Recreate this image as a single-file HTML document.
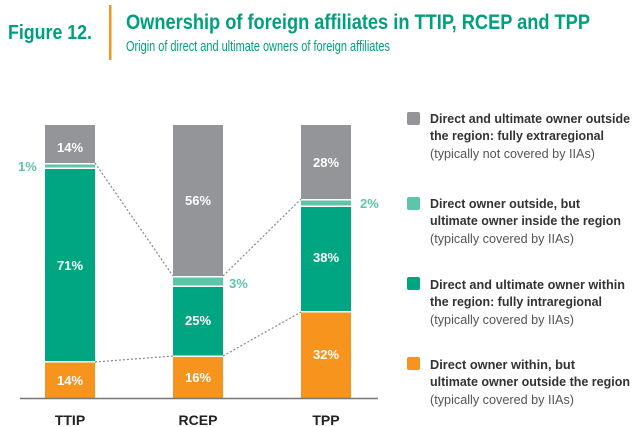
<!DOCTYPE html>
<html><head><meta charset="utf-8"><style>
body{margin:0;background:#fff}
svg{display:block}
text{font-family:"Liberation Sans",sans-serif}
</style></head><body>
<svg width="640" height="427" viewBox="0 0 640 427">
<text x="8" y="39" font-size="20" font-weight="bold" fill="#00a07e" textLength="84" lengthAdjust="spacingAndGlyphs">Figure 12.</text>
<rect x="109" y="5" width="2.5" height="55" fill="#f7941d"/>
<text x="126" y="29" font-size="21" font-weight="bold" fill="#00a07e" textLength="464" lengthAdjust="spacingAndGlyphs">Ownership of foreign affiliates in TTIP, RCEP and TPP</text>
<text x="126" y="51" font-size="15" fill="#00a07e" textLength="264" lengthAdjust="spacingAndGlyphs">Origin of direct and ultimate owners of foreign affiliates</text>

<g stroke="#888" stroke-width="1.2" stroke-dasharray="2,2" fill="none">
<line x1="95" y1="163" x2="173" y2="276"/>
<line x1="223" y1="276" x2="301" y2="199"/>
<line x1="95" y1="362" x2="173" y2="356"/>
<line x1="223" y1="356" x2="301" y2="312"/>
</g>
<rect x="45" y="125" width="50" height="38" fill="#939598"/>
<rect x="45" y="164.5" width="50" height="3" fill="#5ec4ac"/>
<rect x="45" y="169" width="50" height="192" fill="#00a682"/>
<rect x="45" y="362.5" width="50" height="35.5" fill="#f7941d"/>
<rect x="173" y="125" width="50" height="151" fill="#939598"/>
<rect x="173" y="277.5" width="50" height="8" fill="#5ec4ac"/>
<rect x="173" y="287" width="50" height="68.5" fill="#00a682"/>
<rect x="173" y="357" width="50" height="41" fill="#f7941d"/>
<rect x="301" y="125" width="50" height="74" fill="#939598"/>
<rect x="301" y="200.5" width="50" height="5" fill="#5ec4ac"/>
<rect x="301" y="207" width="50" height="104" fill="#00a682"/>
<rect x="301" y="312.5" width="50" height="85.5" fill="#f7941d"/>
<line x1="20" y1="398.5" x2="378" y2="398.5" stroke="#777" stroke-width="1.5"/>

<g font-size="13" font-weight="bold" fill="#fff" text-anchor="middle">
<text x="70" y="152">14%</text>
<text x="70" y="270">71%</text>
<text x="70" y="385">14%</text>
<text x="198" y="205">56%</text>
<text x="198" y="325">25%</text>
<text x="198" y="382">16%</text>
<text x="326" y="167">28%</text>
<text x="326" y="262">38%</text>
<text x="326" y="359">32%</text>
</g>
<g font-size="13" font-weight="bold" fill="#5ec4ac">
<text x="18" y="171">1%</text>
<text x="229" y="288">3%</text>
<text x="360" y="208">2%</text>
</g>
<g font-size="14" font-weight="bold" fill="#222" text-anchor="middle">
<text x="70" y="425">TTIP</text>
<text x="198" y="425">RCEP</text>
<text x="326" y="425">TPP</text>
</g>

<g font-size="13" fill="#333">
<rect x="407" y="112" width="13" height="13" rx="2" fill="#939598"/>
<text x="430" y="123" font-weight="bold" textLength="200" lengthAdjust="spacingAndGlyphs">Direct and ultimate owner outside</text>
<text x="430" y="140" font-weight="bold" textLength="174" lengthAdjust="spacingAndGlyphs">the region: fully extraregional</text>
<text x="430" y="158" fill="#555" textLength="165" lengthAdjust="spacingAndGlyphs">(typically not covered by IIAs)</text>

<rect x="407" y="197" width="13" height="13" rx="2" fill="#5ec4ac"/>
<text x="430" y="208" font-weight="bold" textLength="150" lengthAdjust="spacingAndGlyphs">Direct owner outside, but</text>
<text x="430" y="225" font-weight="bold" textLength="191" lengthAdjust="spacingAndGlyphs">ultimate owner inside the region</text>
<text x="430" y="243" fill="#555" textLength="144" lengthAdjust="spacingAndGlyphs">(typically covered by IIAs)</text>

<rect x="407" y="277" width="13" height="13" rx="2" fill="#00a682"/>
<text x="430" y="289" font-weight="bold" textLength="195" lengthAdjust="spacingAndGlyphs">Direct and ultimate owner within</text>
<text x="430" y="306" font-weight="bold" textLength="172" lengthAdjust="spacingAndGlyphs">the region: fully intraregional</text>
<text x="430" y="324" fill="#555" textLength="144" lengthAdjust="spacingAndGlyphs">(typically covered by IIAs)</text>

<rect x="407" y="357" width="13" height="13" rx="2" fill="#f7941d"/>
<text x="430" y="369" font-weight="bold" textLength="145" lengthAdjust="spacingAndGlyphs">Direct owner within, but</text>
<text x="430" y="386" font-weight="bold" textLength="200" lengthAdjust="spacingAndGlyphs">ultimate owner outside the region</text>
<text x="430" y="404" fill="#555" textLength="144" lengthAdjust="spacingAndGlyphs">(typically covered by IIAs)</text>
</g>
</svg>
</body></html>
